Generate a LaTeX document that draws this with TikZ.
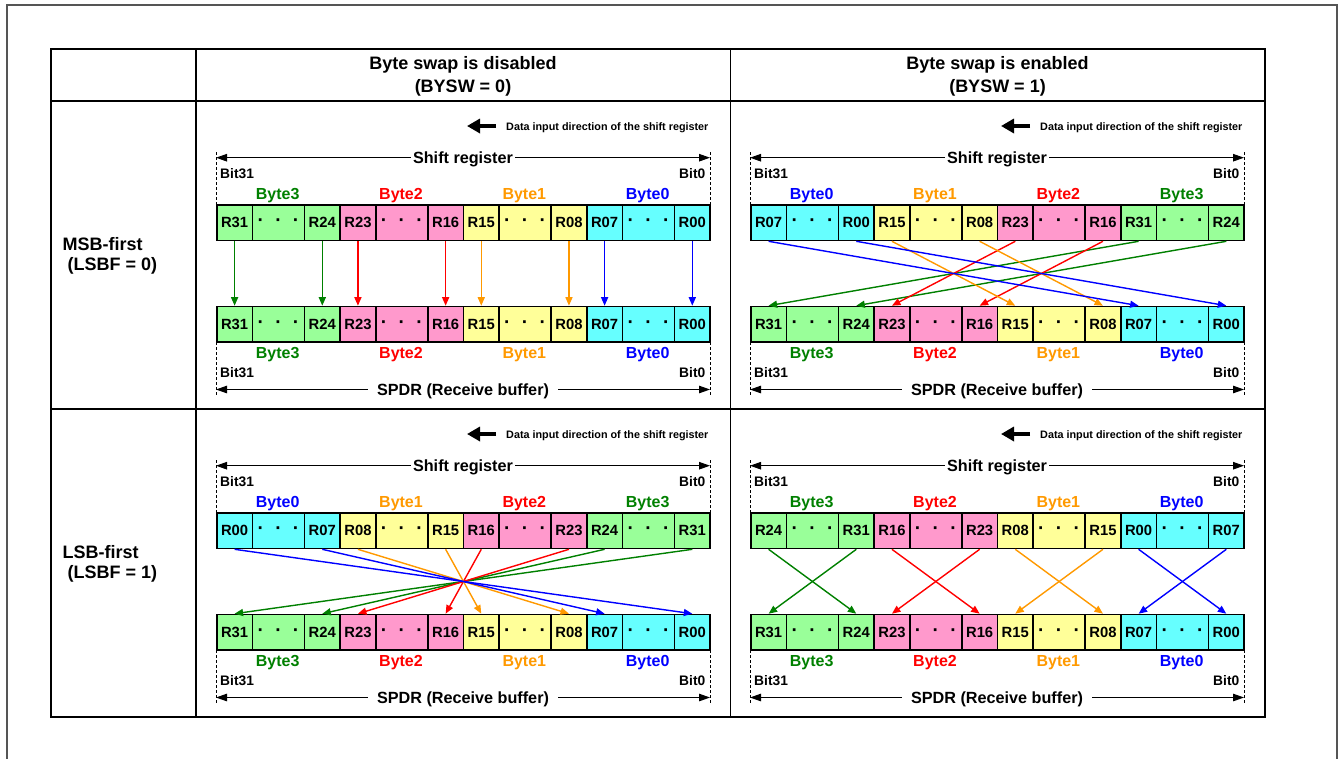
\documentclass[tikz,border=0pt]{standalone}
\usepackage{fontspec}
\setmainfont{Liberation Sans}
\usetikzlibrary{arrows.meta}
\definecolor{cGreenF}{RGB}{153,255,153}
\definecolor{cPinkF}{RGB}{255,153,204}
\definecolor{cYelF}{RGB}{255,255,153}
\definecolor{cCyanF}{RGB}{102,255,255}
\definecolor{cGreen}{RGB}{0,128,0}
\definecolor{cRed}{RGB}{255,0,0}
\definecolor{cOrange}{RGB}{255,153,0}
\definecolor{cBlue}{RGB}{0,0,255}
\definecolor{cFrame}{RGB}{85,85,85}

\newcommand{\fs}[1]{\fontsize{#1}{#1}\selectfont\bfseries}
\newcommand{\dotstxt}{{\fs{19}·\hspace{11.4pt}·\hspace{11.4pt}·}}

\tikzset{
  cell/.style={draw, line width=1.5pt, minimum height=35.5pt, inner sep=0pt, anchor=north west, font=\fs{14.8}},
  bytelab/.style={anchor=base, inner sep=0pt, font=\fs{16}},
  bitlab/.style={inner sep=0pt, font=\fs{13.8}},
  dimtext/.style={anchor=base, inner sep=2pt, font=\fs{16.2}},
  ditext/.style={anchor=base west, inner sep=0pt, font=\fs{10.8}},
  dimline/.style={line width=1pt, -{Triangle[length=11pt,width=7.5pt]}},
  dashln/.style={line width=0.8pt, dash pattern=on 3pt off 2pt},
  dirarrow/.style={line width=4.5pt, -{Triangle[length=13pt,width=14pt]}},
  conn/.style={line width=1.4pt, -{Triangle[length=8.5pt,width=7pt]}},
  headtext/.style={anchor=base, inner sep=0pt, font=\fs{18}},
  rowtext/.style={anchor=base west, inner sep=0pt, font=\fs{18}},
}

\newcommand{\regrow}[3]{%
  \foreach \fa/\la/\fc [count=\i from 0] in {#3} {
    \pgfmathsetmacro\xs{216+123.333*\i}
    \node[cell,fill=\fc,minimum width=35.7pt] (#1\fa) at (\xs,#2) {\fa};
    \node[cell,fill=\fc,minimum width=52pt] (#1\fa x) at (\xs+35.7,#2) {\dotstxt};
    \node[cell,fill=\fc,minimum width=35.7pt] (#1\la) at (\xs+87.7,#2) {\la};
  }%
}

\newcommand{\bytelabels}[3]{%
  \foreach \lb/\lc [count=\i from 0] in {#3} {
    \node[bytelab,text=\lc] (#1\lb) at ({216+123.333*(\i+0.5)},#2) {\lb};
  }%
}

\newcommand{\conns}[2]{%
  \foreach \r/\c in {#2} {
    \draw[conn,draw=\c,fill=\c] (#1t\r.south) -- (#1b\r.north);
  }%
}

\newcommand{\panelframe}[1]{%
  \coordinate (#1da) at (496,126);
  \coordinate (#1db) at (467,126);
  \draw[dirarrow] (#1da) -- (#1db);
  \node[ditext] (#1dt) at (506,130.5) {Data input direction of the shift register};
  \coordinate (#1sl) at (216,157.7);
  \coordinate (#1sr) at (710,157.7);
  \node[dimtext] (#1st) at (463,163.3) {Shift register};
  \draw[dimline] (#1sl -| #1st.west) -- (#1sl);
  \draw[dimline] (#1sr -| #1st.east) -- (#1sr);
  \draw[dashln] (216,152) -- (216,204);
  \draw[dashln] (710,152) -- (710,204);
  \node[bitlab,anchor=base west] (#1tb31) at (220,178) {Bit31};
  \node[bitlab,anchor=base east] (#1tb0) at (705.5,178) {Bit0};
  \draw[dashln] (216,342) -- (216,395);
  \draw[dashln] (710,342) -- (710,395);
  \node[bitlab,anchor=base west] (#1bb31) at (220,377.5) {Bit31};
  \node[bitlab,anchor=base east] (#1bb0) at (705.5,377.5) {Bit0};
  \coordinate (#1pl) at (216,389.5);
  \coordinate (#1pr) at (710,389.5);
  \node[dimtext,inner xsep=9pt] (#1pt) at (463,395.5) {SPDR (Receive buffer)};
  \draw[dimline] (#1pl -| #1pt.west) -- (#1pl);
  \draw[dimline] (#1pr -| #1pt.east) -- (#1pr);
  \regrow{#1b}{305.7}{R31/R24/cGreenF, R23/R16/cPinkF, R15/R08/cYelF, R07/R00/cCyanF}
  \bytelabels{#1bl}{358}{Byte3/cGreen, Byte2/cRed, Byte1/cOrange, Byte0/cBlue}
}

\begin{document}
\begin{tikzpicture}[x=1pt,y=-1pt]
\useasboundingbox (0,0) rectangle (1340,758);
% outer frame
\draw[cFrame, line width=1.3pt] (7,760) -- (7,5) -- (1337,5) -- (1337,760);
% table
\draw[line width=2pt] (51,49) rectangle (1265,717);
\draw[line width=2pt] (51,101) -- (1265,101);
\draw[line width=2pt] (196,49) -- (196,717);
\draw[line width=1pt] (730,49) -- (730,717);
\draw[line width=1.5pt] (51,409) -- (1265,409);
% headers
\node[headtext] (h1a) at (463,69.5) {Byte swap is disabled};
\node[headtext] (h1b) at (463,92.5) {(BYSW = 0)};
\node[headtext] (h2a) at (997.5,69.5) {Byte swap is enabled};
\node[headtext] (h2b) at (997.5,92.5) {(BYSW = 1)};
\node[rowtext] (r1a) at (62.5,250.7) {MSB-first};
\node[rowtext] (r1b) at (62.5,270.2) {\ (LSBF = 0)};
\node[rowtext] (r2a) at (62.5,558.7) {LSB-first};
\node[rowtext] (r2b) at (62.5,578.2) {\ (LSBF = 1)};

% panel 1: MSB-first, no swap
\begin{scope}
\panelframe{p1}
\regrow{p1t}{204.3}{R31/R24/cGreenF, R23/R16/cPinkF, R15/R08/cYelF, R07/R00/cCyanF}
\bytelabels{p1tl}{199}{Byte3/cGreen, Byte2/cRed, Byte1/cOrange, Byte0/cBlue}
\conns{p1}{R31/cGreen, R24/cGreen, R23/cRed, R16/cRed, R15/cOrange, R08/cOrange, R07/cBlue, R00/cBlue}
\end{scope}

% panel 2: MSB-first, swap
\begin{scope}[shift={(534,0)}]
\panelframe{p2}
\regrow{p2t}{204.3}{R07/R00/cCyanF, R15/R08/cYelF, R23/R16/cPinkF, R31/R24/cGreenF}
\bytelabels{p2tl}{199}{Byte0/cBlue, Byte1/cOrange, Byte2/cRed, Byte3/cGreen}
\conns{p2}{R31/cGreen, R24/cGreen, R23/cRed, R16/cRed, R15/cOrange, R08/cOrange, R07/cBlue, R00/cBlue}
\end{scope}

% panel 3: LSB-first, no swap
\begin{scope}[shift={(0,308)}]
\panelframe{p3}
\regrow{p3t}{204.3}{R00/R07/cCyanF, R08/R15/cYelF, R16/R23/cPinkF, R24/R31/cGreenF}
\bytelabels{p3tl}{199}{Byte0/cBlue, Byte1/cOrange, Byte2/cRed, Byte3/cGreen}
\conns{p3}{R31/cGreen, R24/cGreen, R23/cRed, R16/cRed, R15/cOrange, R08/cOrange, R07/cBlue, R00/cBlue}
\end{scope}

% panel 4: LSB-first, swap
\begin{scope}[shift={(534,308)}]
\panelframe{p4}
\regrow{p4t}{204.3}{R24/R31/cGreenF, R16/R23/cPinkF, R08/R15/cYelF, R00/R07/cCyanF}
\bytelabels{p4tl}{199}{Byte3/cGreen, Byte2/cRed, Byte1/cOrange, Byte0/cBlue}
\conns{p4}{R31/cGreen, R24/cGreen, R23/cRed, R16/cRed, R15/cOrange, R08/cOrange, R07/cBlue, R00/cBlue}
\end{scope}
\end{tikzpicture}
\end{document}
